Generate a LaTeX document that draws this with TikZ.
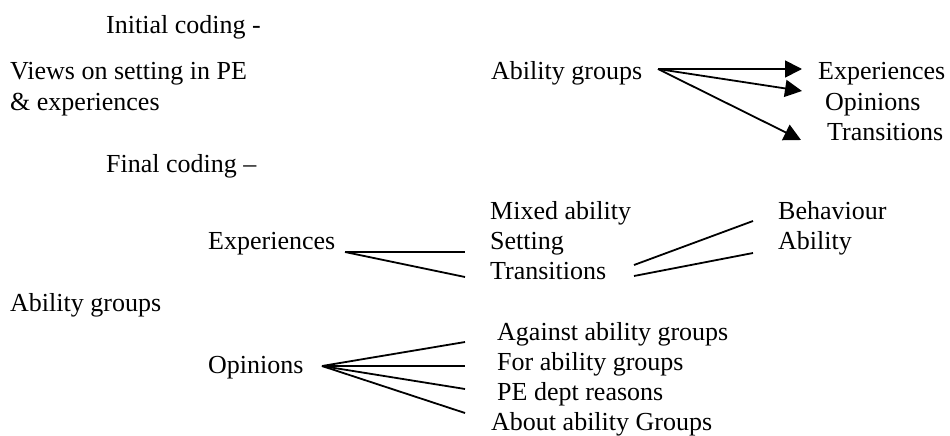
\documentclass[tikz,border=0pt]{standalone}
\usepackage{fontspec}
\setmainfont{Liberation Serif}
\usetikzlibrary{arrows.meta}
\begin{document}
\begin{tikzpicture}[x=1pt,y=-1pt,
  lbl/.style={anchor=base west,inner sep=0pt,font=\fontsize{26}{30}\selectfont},
  conn/.style={line width=1.8pt},
  arr/.style={conn,-{Triangle[length=17pt,width=17pt]}}]
\useasboundingbox[fill=white] (0,0) rectangle (950,436);
% texts
\node[lbl] (init) at (106,34) {Initial coding -};
\node[lbl] (views) at (10,80) {Views on setting in PE};
\node[lbl] (views2) at (10,110) {\& experiences};
\node[lbl] (ag1) at (491,80) {Ability groups};
\node[lbl] (exp1) at (818,80) {Experiences};
\node[lbl] (op1) at (825,110) {Opinions};
\node[lbl] (tr1) at (827,140) {Transitions};
\node[lbl] (final) at (106,172) {Final coding –};
\node[lbl] (exp2) at (208,249) {Experiences};
\node[lbl] (mixed) at (490,219) {Mixed ability};
\node[lbl] (setting) at (490,249) {Setting};
\node[lbl] (tr2) at (490,279) {Transitions};
\node[lbl] (beh) at (778,219) {Behaviour};
\node[lbl] (abil) at (778,249) {Ability};
\node[lbl] (ag2) at (10,311) {Ability groups};
\node[lbl] (op2) at (208,373) {Opinions};
\node[lbl] (against) at (497,340) {Against ability groups};
\node[lbl] (forag) at (497,370) {For ability groups};
\node[lbl] (pe) at (497,400) {PE dept reasons};
\node[lbl] (about) at (491,430) {About ability Groups};
% connector end points
\coordinate (ag1o) at (658,69);
\coordinate (exp1i) at (802,69);
\coordinate (op1i) at (802,91);
\coordinate (tr1i) at (801,140);
\coordinate (exp2o) at (345,252);
\coordinate (setI) at (465,252);
\coordinate (tr2I) at (465,277);
\coordinate (tr2oA) at (634,265);
\coordinate (tr2oB) at (634,276);
\coordinate (behI) at (753,221);
\coordinate (abilI) at (753,253);
\coordinate (op2o) at (322,366);
\coordinate (againstI) at (465,342);
\coordinate (forI) at (465,366);
\coordinate (peI) at (465,389);
\coordinate (aboutI) at (465,413);
% connectors
\draw[arr] (ag1o) -- (exp1i);
\draw[arr] (ag1o) -- (op1i);
\draw[arr] (ag1o) -- (tr1i);
\draw[conn] (exp2o) -- (setI);
\draw[conn] (exp2o) -- (tr2I);
\draw[conn] (tr2oA) -- (behI);
\draw[conn] (tr2oB) -- (abilI);
\draw[conn] (op2o) -- (againstI);
\draw[conn] (op2o) -- (forI);
\draw[conn] (op2o) -- (peI);
\draw[conn] (op2o) -- (aboutI);
\end{tikzpicture}
\end{document}
